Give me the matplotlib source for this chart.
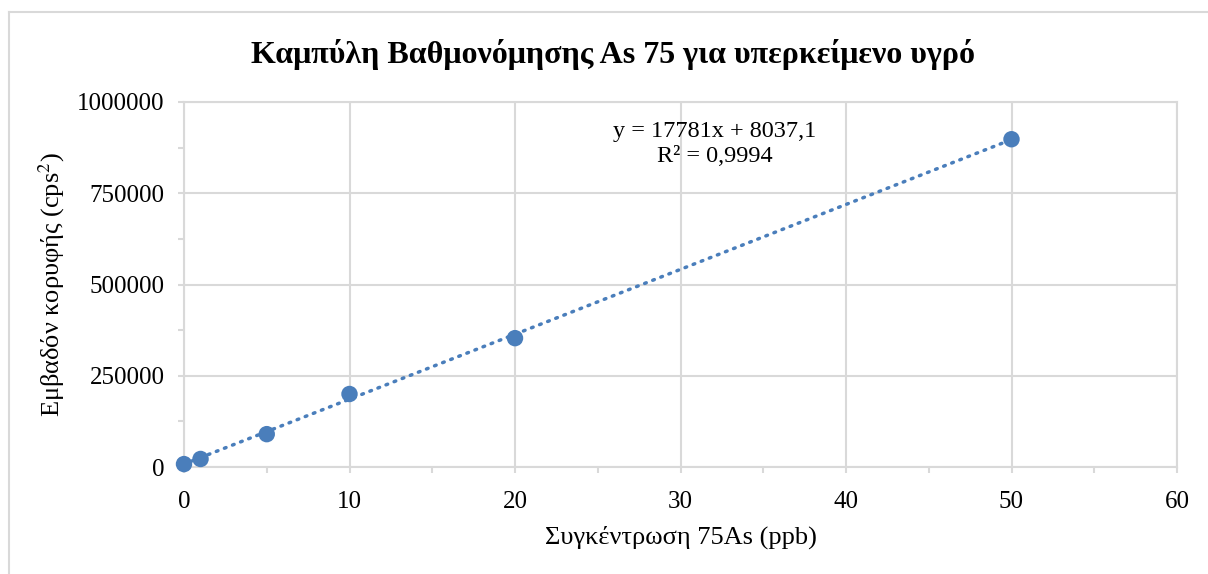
import numpy as np
import matplotlib
matplotlib.use("Agg")
import matplotlib.pyplot as plt
from matplotlib.lines import Line2D

plt.rcParams['font.family'] = ['Liberation Serif', 'DejaVu Serif']
plt.rcParams['mathtext.fontset'] = 'stix'

# data
conc = [0, 1, 5, 10, 20, 50]
area = [8000, 22000, 90000, 200000, 353000, 898000]
slope = 17781
intercept = 8037.1
r2_text = "0,9994"

x_ticks = [0, 10, 20, 30, 40, 50, 60]
y_ticks = [0, 250000, 500000, 750000, 1000000]

blue = '#4a7ebb'
grid_c = '#d9d9d9'

fig = plt.figure(figsize=(12.08, 5.74), dpi=100)
ax = fig.add_axes([184/1208, 1-467/574, (1177-184)/1208, (467-102)/574])

ax.scatter(conc, area, s=140, color=blue, zorder=3, edgecolors='none', clip_on=False)
xfit = np.array([min(conc), max(conc)])
ax.plot(xfit, slope*xfit + intercept, linestyle=(0, (0.5, 2.0)), color=blue,
        lw=2.5, dash_capstyle='round', zorder=2)

ax.set_xlim(0, 60)
ax.set_ylim(0, 1000000)
ax.set_xticks(x_ticks)
ax.set_yticks(y_ticks)
ax.set_xticks(np.arange(0, 61, 5), minor=True)
ax.set_yticks(np.arange(0, 1000001, 125000), minor=True)
ax.set_xticklabels([str(t) for t in x_ticks])
ax.set_yticklabels([str(t) for t in y_ticks])
ax.grid(True, which='major', color=grid_c, lw=1.5)
ax.set_axisbelow(True)
for s in ax.spines.values():
    s.set_color(grid_c)
    s.set_linewidth(1.5)
ax.tick_params(which='both', color=grid_c, length=4, width=1.5, labelsize=18,
               direction='out')
ax.tick_params(axis='x', pad=13)
ax.tick_params(axis='y', pad=10)

ax.set_xlabel('Συγκέντρωση 75As (ppb)', fontsize=19, labelpad=9)
ax.set_ylabel(r'Εμβαδόν κορυφής (cps$^{2}$)', fontsize=19, labelpad=7)

fig.text(613/1208, 1-55/574, 'Καμπύλη Βαθμονόμησης As 75 για υπερκείμενο υγρό',
         fontsize=23, fontweight='bold', ha='center', va='center')

ax.text(715/1208, 1-144/574, f'y = {slope}x + {str(intercept).replace(".", ",")}\nR² = {r2_text}',
        transform=fig.transFigure, fontsize=17.5, ha='center', va='center',
        linespacing=1.3)

# outer chart frame
fig.add_artist(Line2D([9/1208, 1], [1-12/574, 1-12/574], color=grid_c, lw=1.5,
                      transform=fig.transFigure))
fig.add_artist(Line2D([9/1208, 9/1208], [0, 1-12/574], color=grid_c, lw=1.5,
                      transform=fig.transFigure))

fig.savefig('out.png', dpi=100)
